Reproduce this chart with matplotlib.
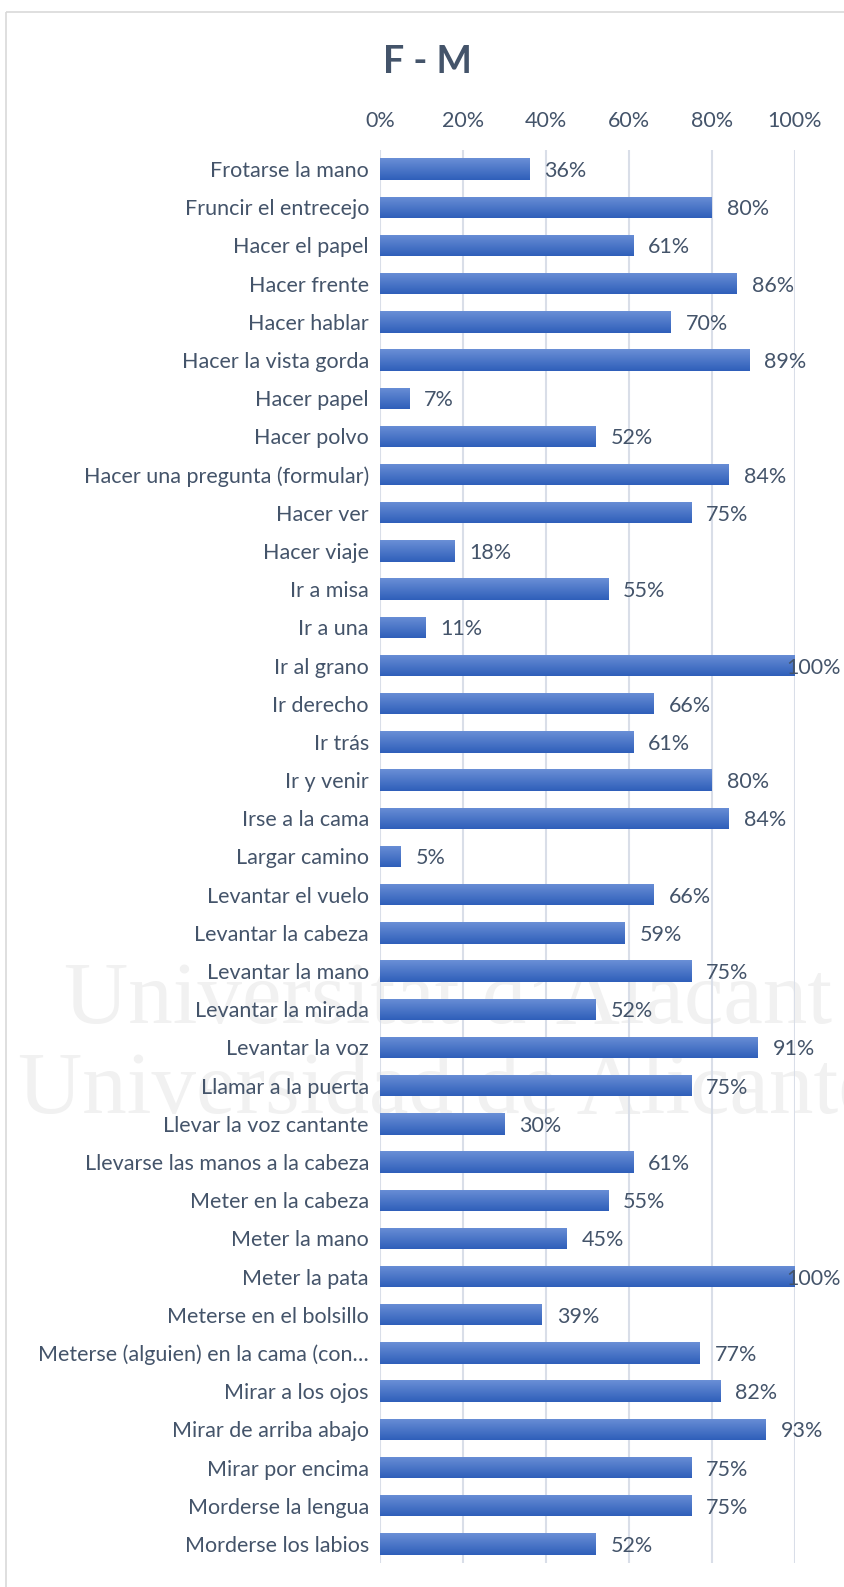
import numpy as np
import matplotlib.pyplot as plt
from matplotlib.patches import Rectangle
from matplotlib.colors import LinearSegmentedColormap

# expresiones y porcentajes
expresiones = [
    "Frotarse la mano", "Fruncir el entrecejo", "Hacer el papel", "Hacer frente",
    "Hacer hablar", "Hacer la vista gorda", "Hacer papel", "Hacer polvo",
    "Hacer una pregunta (formular)", "Hacer ver", "Hacer viaje", "Ir a misa",
    "Ir a una", "Ir al grano", "Ir derecho", "Ir trás", "Ir y venir",
    "Irse a la cama", "Largar camino", "Levantar el vuelo", "Levantar la cabeza",
    "Levantar la mano", "Levantar la mirada", "Levantar la voz",
    "Llamar a la puerta", "Llevar la voz cantante",
    "Llevarse las manos a la cabeza", "Meter en la cabeza", "Meter la mano",
    "Meter la pata", "Meterse en el bolsillo",
    "Meterse (alguien) en la cama (con\u2026", "Mirar a los ojos",
    "Mirar de arriba abajo", "Mirar por encima", "Morderse la lengua",
    "Morderse los labios",
]
porcentajes = [36, 80, 61, 86, 70, 89, 7, 52, 84, 75, 18, 55, 11, 100, 66, 61,
               80, 84, 5, 66, 59, 75, 52, 91, 75, 30, 61, 55, 45, 100, 39, 77,
               82, 93, 75, 75, 52]
ticks = [0, 20, 40, 60, 80, 100]

TXT = '#44546A'
FONT = ['Lato', 'DejaVu Sans']

fig = plt.figure(figsize=(8.45, 15.87), dpi=100)
fig.patch.set_facecolor('white')

# fondo con marco y marca de agua, detrás de las barras
bg = fig.add_axes([0, 0, 1, 1], zorder=0)
bg.set_xlim(0, 845)
bg.set_ylim(1587, 0)
bg.axis('off')
bg.add_patch(Rectangle((6, 12), 900, 1600, fill=False,
                       edgecolor='#D9D9D9', linewidth=1.2))
bg.text(448, 1002, "Universitat d\u2019Alacant", ha='center', va='center',
        fontsize=64, family='Liberation Serif', color='#F1F1F1')
bg.text(448, 1092, "Universidad de Alicante", ha='center', va='center',
        fontsize=64, family='Liberation Serif', color='#F1F1F1')

ax = fig.add_axes([380 / 845, 1 - 1563 / 1587, 415 / 845, (1563 - 150) / 1587],
                  zorder=1)
ax.patch.set_alpha(0)

y = np.arange(len(expresiones))
alto = 0.56
bars = ax.barh(y, porcentajes, height=alto, color='#4472C4', zorder=3)

grad = LinearSegmentedColormap.from_list('g', ['#2F5FBA', '#6A8FD6'])
img = np.linspace(0, 1, 64).reshape(-1, 1)
for b in bars:
    x0, y0 = b.get_x(), b.get_y()
    w, h = b.get_width(), b.get_height()
    im = ax.imshow(img, cmap=grad, aspect='auto', origin='lower',
                   extent=(x0, x0 + w, y0 + h, y0), zorder=4)
    im.set_clip_path(b)

# etiquetas de valor; las de 100% se recogen para no salirse del marco
for yi, v in zip(y, porcentajes):
    dx = -9 if v >= 100 else 15
    ax.annotate(f"{v}%", (v, yi), xytext=(dx, -2), textcoords='offset pixels',
                ha='left', va='center', fontsize=15.5, color=TXT, family=FONT,
                zorder=5, annotation_clip=False)

ax.set_xlim(0, 100)
ax.set_ylim(len(expresiones) - 0.5, -0.5)
ax.set_xticks(ticks)
ax.set_xticklabels([f"{t}%" for t in ticks])
ax.xaxis.tick_top()
ax.set_yticks(y)
ax.set_yticklabels(expresiones)
ax.tick_params(axis='both', length=0, labelsize=15.5, labelcolor=TXT)
ax.tick_params(axis='y', pad=8)
ax.tick_params(axis='x', pad=14)
for lab in ax.get_xticklabels() + ax.get_yticklabels():
    lab.set_family(FONT)
ax.grid(axis='x', color='#D9DEE8', linewidth=1.5, zorder=0)
ax.set_axisbelow(True)
for s in ax.spines.values():
    s.set_visible(False)

fig.text(427 / 845, 1 - 62 / 1587, "F - M", ha='center', va='center',
         fontsize=27, fontweight='bold', color=TXT, family=FONT)

fig.savefig('out.png', dpi=100, facecolor='white')
